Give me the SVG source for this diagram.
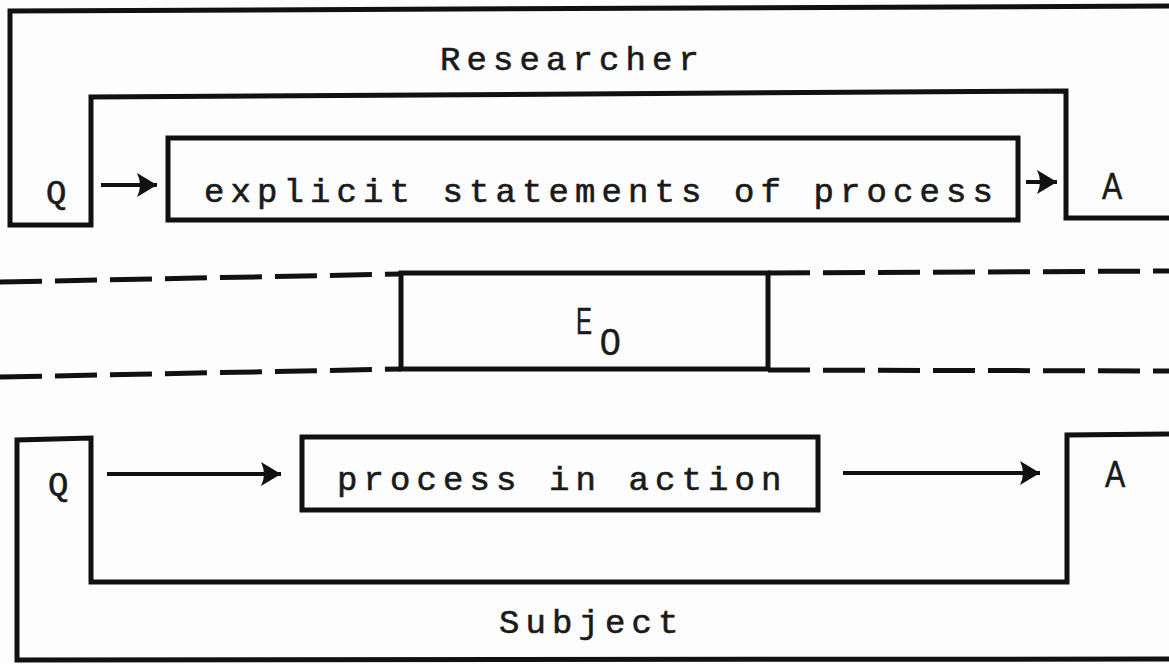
<svg xmlns="http://www.w3.org/2000/svg" width="1169" height="664" viewBox="0 0 1169 664">
  <style>
    .ln { fill: none; stroke: #111; stroke-width: 5; stroke-linejoin: miter; }
    .dash { fill: none; stroke: #111; stroke-width: 5; stroke-dasharray: 42 13; }
    .arr { fill: none; stroke: #111; stroke-width: 4; }
    .mono { font-family: "Liberation Mono", "DejaVu Sans Mono", monospace; font-size: 34px; letter-spacing: 6.1px; fill: #1a1a1a; stroke: #1a1a1a; stroke-width: 0.6; }
    .sans { font-family: "Liberation Sans", Arial, sans-serif; font-size: 37px; fill: #1a1a1a; stroke: #1a1a1a; stroke-width: 0.5; }
  </style>
  <defs>
    <marker id="ah" markerUnits="userSpaceOnUse" markerWidth="30" markerHeight="30" refX="22" refY="15" orient="auto">
      <path d="M2,3 L22,15 L2,27 Q8,15 2,3 Z" fill="#111"/>
    </marker>
  </defs>
  <rect width="1169" height="664" fill="#fdfdfd"/>

  <g id="researcher">
    <path class="ln" d="M1169,6 L10,11 L10,225 L91,225 L91,97 L1066,91 L1066,218 L1169,218"/>
    <text class="mono" x="440" y="70">Researcher</text>
    <text class="mono" x="46" y="203">Q</text>
    <text class="sans" transform="translate(1102,199) scale(0.82,1)">A</text>
  </g>

  <g id="explicit">
    <rect class="ln" x="168" y="138" width="850" height="82"/>
    <text class="mono" x="204" y="202">explicit statements of process</text>
  </g>

  <g id="eo">
    <rect class="ln" x="401" y="273" width="367" height="96"/>
    <text class="sans" transform="translate(576,334) scale(0.65,1)">E</text>
    <text class="sans" x="600" y="355">0</text>
  </g>

  <g id="process">
    <rect class="ln" x="302" y="437" width="516" height="73"/>
    <text class="mono" x="337" y="490">process in action</text>
  </g>

  <g id="subject">
    <path class="ln" d="M1169,434 L1067,435 L1067,582 L91,582 L91,438 L17,440 L17,660 L1169,659"/>
    <text class="mono" x="499" y="633">Subject</text>
    <text class="mono" x="48" y="495">Q</text>
    <text class="sans" transform="translate(1105,487) scale(0.82,1)">A</text>
  </g>

  <g id="connectors">
    <path class="dash" d="M0,282 L401,274"/>
    <path class="dash" d="M768,273 L1169,271"/>
    <path class="dash" d="M0,377 L401,369"/>
    <path class="dash" d="M768,370 L1169,371"/>
    <path class="arr" d="M101,185 L157,185" marker-end="url(#ah)"/>
    <path class="arr" d="M1026,182 L1057,182" marker-end="url(#ah)"/>
    <path class="arr" d="M107,474 L281,474" marker-end="url(#ah)"/>
    <path class="arr" d="M843,473 L1040,473" marker-end="url(#ah)"/>
  </g>
</svg>
